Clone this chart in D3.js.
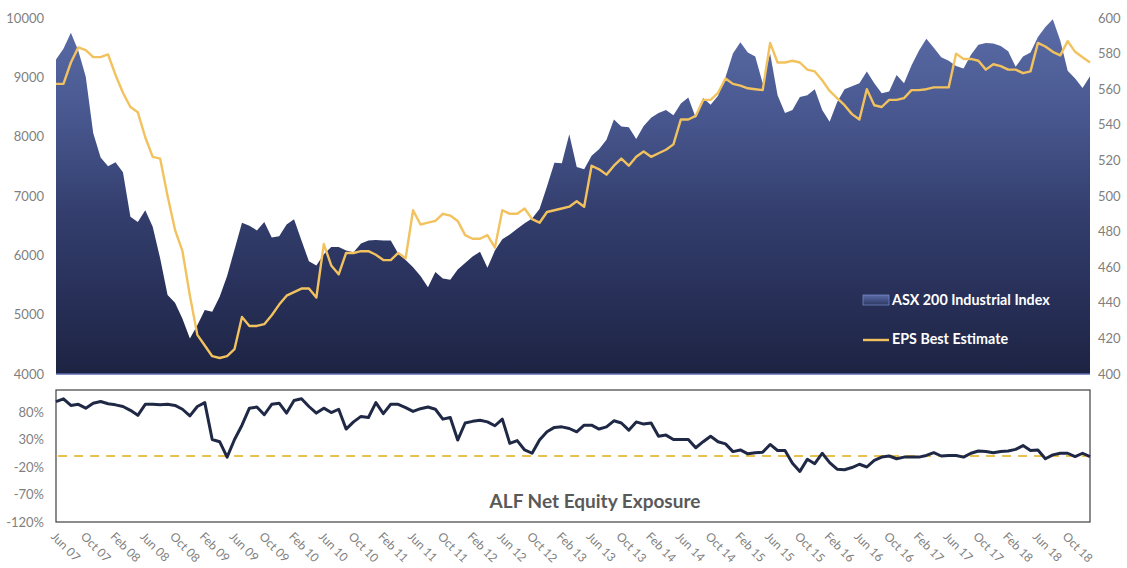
<!DOCTYPE html>
<html>
<head>
<meta charset="utf-8">
<script src="https://cdn.jsdelivr.net/npm/d3@7"></script>
<style>
  html, body { margin: 0; padding: 0; background: #ffffff; }
  svg { display: block; }
  text { font-family: Lato, "Open Sans", sans-serif; }
</style>
</head>
<body>
<svg id="chart" width="1127" height="568"></svg>
<script>
// ---------------- DATA ----------------
// Monthly observations, Jun 2007 .. Jan 2019 (140 months)
const months = (function () {
  const names = ["Jan","Feb","Mar","Apr","May","Jun","Jul","Aug","Sep","Oct","Nov","Dec"];
  const out = [];
  for (let k = 0; k < 140; k++) {
    const m = (5 + k) % 12, y = 7 + Math.floor((5 + k) / 12);
    out.push(names[m] + " " + String(y).padStart(2, "0"));
  }
  return out;
})();

const asx200Industrial = [
  9300, 9480, 9750, 9450, 9010, 8060, 7650, 7500, 7570, 7400,
  6650, 6560, 6760, 6480, 5950, 5330, 5200, 4930, 4600, 4820,
  5080, 5050, 5300, 5650, 6100, 6550, 6500, 6420, 6560, 6300,
  6320, 6520, 6610, 6250, 5900, 5830, 6020, 6140, 6140, 6080,
  6050, 6200, 6250, 6260, 6250, 6250, 6030, 5920, 5800, 5650,
  5460, 5720, 5610, 5590, 5760, 5870, 5980, 6060, 5790, 6080,
  6270, 6350, 6450, 6540, 6620, 6780, 7160, 7560, 7550, 8040,
  7490, 7450, 7680, 7790, 7950, 8290, 8170, 8160, 7960, 8180,
  8320, 8400, 8450, 8360, 8560, 8660, 8320, 8650, 8540, 8690,
  9000, 9400, 9590, 9420, 9350, 8900, 9400, 8700, 8400, 8450,
  8670, 8700, 8800, 8450, 8250, 8580, 8800, 8850, 8900, 9100,
  8900, 8730, 8760, 9040, 8900, 9200, 9450, 9650, 9500, 9340,
  9280, 9190, 9150, 9380, 9550, 9580, 9570, 9530, 9440, 9180,
  9350, 9420, 9680, 9850, 9980, 9620, 9110, 8980, 8820, 9020
];

const epsBestEstimate = [
  563, 563, 575, 583.5, 582, 578, 578, 579.5, 568, 558,
  550, 547, 533, 522, 521, 500, 481, 469, 444, 422,
  416, 410, 409, 410, 414, 432, 427, 427, 428, 433,
  439, 444, 446, 448, 448, 443, 473, 461, 456, 468,
  468, 469, 469, 467, 464, 464, 468, 465, 492, 484,
  485, 486, 490, 489, 486, 478, 476, 476, 478, 471,
  492, 490, 490, 493, 487, 485, 491, 492, 493, 494,
  497, 494, 517, 515, 512, 517, 521, 517, 522, 525,
  522, 524, 526, 529, 543, 543, 545, 554, 554, 558,
  566, 563, 562, 560.5, 560, 559.5, 586, 575, 575, 576,
  575, 571, 570, 565, 559, 555, 551, 546, 543, 560,
  551, 550, 554, 554, 555, 559.5, 559.5, 560, 561, 561,
  561, 580, 577, 577, 576, 571, 574, 573, 571, 571,
  569, 570, 586, 584, 581, 579, 587, 581, 578, 575
];

const netEquityExposure = [
  99, 104, 92, 94, 87, 96, 99, 95, 93, 90,
  83, 74, 94, 94, 93, 94, 92, 85, 73, 90,
  97, 30, 26, -2, 30, 56, 87, 89, 75, 94,
  96, 78, 101, 104, 90, 78, 87, 79, 85, 49,
  62, 72, 70, 97, 77, 94, 94, 88, 81, 86,
  89, 85, 67, 70, 29, 60, 63, 65, 62, 55,
  67, 23, 28, 11, 5, 29, 44, 52, 53, 50,
  44, 56, 56, 49, 53, 64, 60, 47, 62, 58,
  60, 36, 38, 30, 30, 30, 15, 26, 36, 26,
  22, 8, 11, 4, 6, 7, 21, 10, 10, -13,
  -28, -6, -14, 5, -12, -24, -25, -21, -15, -20,
  -8, -2, 0, -5, -2, -2, -2, 1, 6, 0,
  1, 1, -2, 5, 9, 8, 6, 8, 9, 12,
  19, 10, 11, -5, 2, 5, 5, -1, 5, -1
];

const xTickLabels = [
  "Jun 07","Oct 07","Feb 08","Jun 08","Oct 08","Feb 09","Jun 09","Oct 09","Feb 10",
  "Jun 10","Oct 10","Feb 11","Jun 11","Oct 11","Feb 12","Jun 12","Oct 12","Feb 13",
  "Jun 13","Oct 13","Feb 14","Jun 14","Oct 14","Feb 15","Jun 15","Oct 15","Feb 16",
  "Jun 16","Oct 16","Feb 17","Jun 17","Oct 17","Feb 18","Jun 18","Oct 18"
];
const indexTicks = [4000, 5000, 6000, 7000, 8000, 9000, 10000];
const epsTicks = [400, 420, 440, 460, 480, 500, 520, 540, 560, 580, 600];
const exposureTicks = [80, 30, -20, -70, -120];
const legendLabels = ["ASX 200 Industrial Index", "EPS Best Estimate"];
const panelTitle = "ALF Net Equity Exposure";

// ---------------- LAYOUT ----------------
const svg = d3.select("#chart");
const L = 56, R = 1090;
const topT = 18, topB = 374;
const botT = 390, botB = 522;

const x = d3.scaleLinear().domain([0, months.length - 1]).range([L, R]);
const yIdx = d3.scaleLinear().domain([4000, 10000]).range([topB, topT]);
const yEps = d3.scaleLinear().domain([400, 600]).range([topB, topT]);
const yExp = d3.scaleLinear().domain([-120, 120]).range([botB, botT]);

const tickColor = "#7f7f7f";

// gradient
const defs = svg.append("defs");
const grad = defs.append("linearGradient")
  .attr("id", "areaGrad").attr("gradientUnits", "userSpaceOnUse")
  .attr("x1", 0).attr("x2", 0).attr("y1", topT).attr("y2", topB);
[[0, "#5b6ca7"], [0.3, "#46558c"], [0.55, "#333e6d"], [0.8, "#272f57"], [1, "#1c2342"]]
  .forEach(([o, c]) => grad.append("stop").attr("offset", o).attr("stop-color", c));
const lgrad = defs.append("linearGradient")
  .attr("id", "legGrad").attr("x1", 0).attr("x2", 0).attr("y1", 0).attr("y2", 1);
[[0, "#5b6ca7"], [1, "#2c3763"]]
  .forEach(([o, c]) => lgrad.append("stop").attr("offset", o).attr("stop-color", c));

// ---------------- TOP PANEL ----------------
const area = d3.area()
  .x((d, i) => x(i)).y0(topB).y1(d => yIdx(d));
svg.append("path").datum(asx200Industrial)
  .attr("d", area).attr("fill", "url(#areaGrad)");
svg.append("line").attr("x1", L).attr("x2", R).attr("y1", topB).attr("y2", topB)
  .attr("stroke", "#5d6cb0").attr("stroke-width", 1.5);

const epsLine = d3.line().x((d, i) => x(i)).y(d => yEps(d));
svg.append("path").datum(epsBestEstimate)
  .attr("d", epsLine).attr("fill", "none")
  .attr("stroke", "#f2c25e").attr("stroke-width", 2.4).attr("stroke-linejoin", "round");

// left axis
const gL = svg.append("g").attr("transform", `translate(${L},0)`)
  .call(d3.axisLeft(yIdx).tickValues(indexTicks).tickSize(0).tickPadding(12).tickFormat(d3.format("d")));
gL.select(".domain").remove();
gL.selectAll("text").attr("fill", tickColor).style("font-size", "13px");

// right axis
const gR = svg.append("g").attr("transform", `translate(${R},0)`)
  .call(d3.axisRight(yEps).tickValues(epsTicks).tickSize(0).tickPadding(8));
gR.select(".domain").remove();
gR.selectAll("text").attr("fill", tickColor).style("font-size", "13px");

// legend
const lg = svg.append("g");
lg.append("rect").attr("x", 863).attr("y", 295).attr("width", 26).attr("height", 10)
  .attr("fill", "url(#legGrad)").attr("stroke", "#7484c4").attr("stroke-width", 0.8);
lg.append("text").attr("x", 892).attr("y", 305).text(legendLabels[0])
  .attr("fill", "#ffffff").style("font-size", "14.3px").style("font-weight", "bold");
lg.append("line").attr("x1", 863).attr("x2", 889).attr("y1", 340).attr("y2", 340)
  .attr("stroke", "#f2c25e").attr("stroke-width", 2.4);
lg.append("text").attr("x", 892).attr("y", 344).text(legendLabels[1])
  .attr("fill", "#ffffff").style("font-size", "14.3px").style("font-weight", "bold");

// ---------------- BOTTOM PANEL ----------------
svg.append("rect").attr("x", L).attr("y", botT).attr("width", R - L).attr("height", botB - botT)
  .attr("fill", "#ffffff").attr("stroke", "#404040").attr("stroke-width", 1.2);

svg.append("line").attr("x1", L + 2).attr("x2", R - 2)
  .attr("y1", yExp(0)).attr("y2", yExp(0))
  .attr("stroke", "#e8c14f").attr("stroke-width", 2).attr("stroke-dasharray", "9,7");

const expLine = d3.line().x((d, i) => x(i)).y(d => yExp(d));
svg.append("path").datum(netEquityExposure)
  .attr("d", expLine).attr("fill", "none")
  .attr("stroke", "#1f2946").attr("stroke-width", 3).attr("stroke-linejoin", "round");

const gB = svg.append("g").attr("transform", `translate(${L},0)`)
  .call(d3.axisLeft(yExp).tickValues(exposureTicks).tickSize(0).tickPadding(12).tickFormat(d => d + "%"));
gB.select(".domain").remove();
gB.selectAll("text").attr("fill", tickColor).style("font-size", "13px");

svg.append("text").attr("x", 595).attr("y", 508).attr("text-anchor", "middle")
  .text(panelTitle).attr("fill", "#595959")
  .style("font-size", "19px").style("font-weight", "bold");

// x axis labels (every 4 months)
const tickIdx = xTickLabels.map((_, k) => k * 4);
const gX = svg.append("g").attr("transform", `translate(0,${botB})`)
  .call(d3.axisBottom(x).tickValues(tickIdx).tickSize(0).tickFormat((d, k) => xTickLabels[k]));
gX.select(".domain").remove();
gX.selectAll("text")
  .attr("fill", tickColor).style("font-size", "12px")
  .attr("text-anchor", "start")
  .attr("y", null)
  .attr("transform", "translate(0,9) rotate(45)")
  .attr("dy", "0.75em");
</script>
</body>
</html>
